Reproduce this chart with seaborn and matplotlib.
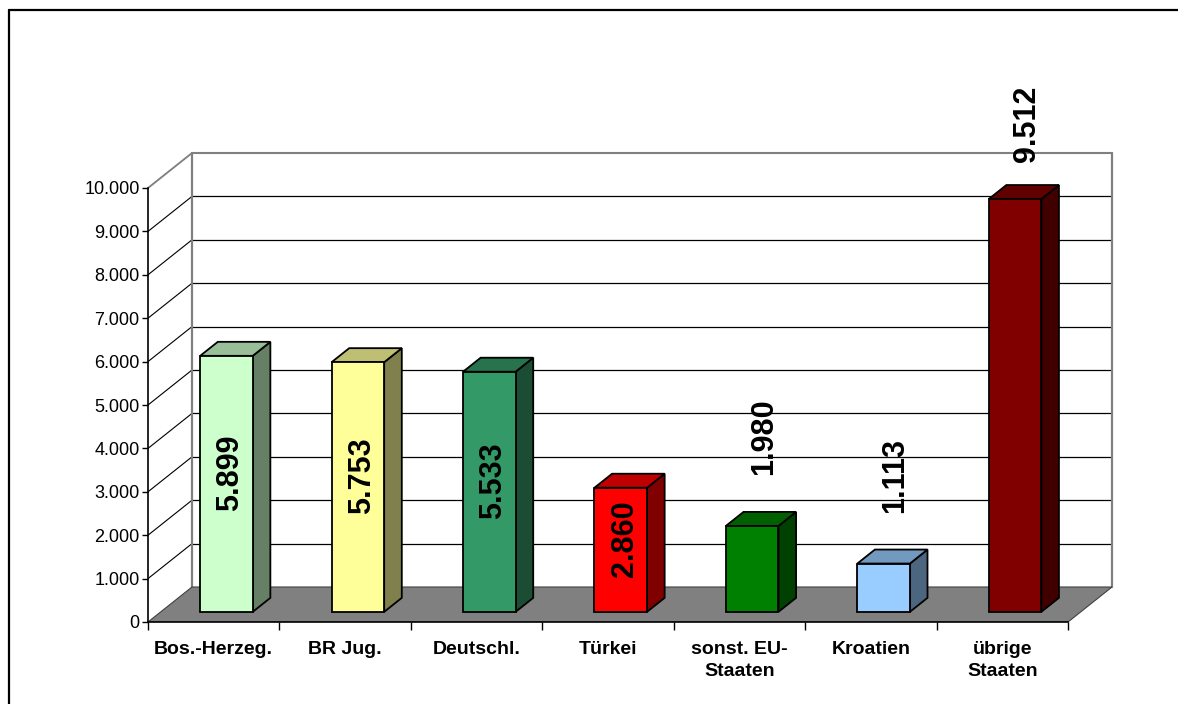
import numpy as np
import pandas as pd
import matplotlib
matplotlib.use("Agg")
import matplotlib.pyplot as plt
import matplotlib.transforms as mtransforms
from matplotlib.patches import Polygon, Rectangle
from matplotlib.lines import Line2D
from matplotlib.ticker import FuncFormatter, FixedLocator
import seaborn as sns

# --- data -------------------------------------------------------------
categories = ["Bos.-Herzeg.", "BR Jug.", "Deutschl.", "Türkei",
              "sonst. EU-\nStaaten", "Kroatien", "übrige\nStaaten"]
values = [5899, 5753, 5533, 2860, 1980, 1113, 9512]
bar_colors = ["#CCFFCC", "#FFFF99", "#339966", "#FF0000",
              "#008000", "#99CCFF", "#800000"]
label_inside = [True, True, True, True, False, False, False]
y_ticks = list(range(0, 10001, 1000))

# --- style ------------------------------------------------------------
sns.set_style("white")
plt.rcParams["font.family"] = ["Liberation Sans", "DejaVu Sans"]
plt.rcParams.update({"text.color": "black", "xtick.color": "black",
                     "ytick.color": "black", "axes.labelcolor": "black"})

W, H, DPI = 1178, 704, 100
fig = plt.figure(figsize=(W / DPI, H / DPI), dpi=DPI)

# axes placement (pixels) so that the chart floor front edge sits at y=622
px_per_cat = (1068 - 148) / 7.0
x_lo, x_hi = -0.5, 7.2
y_lo, y_hi = 0, 11000
px_per_val = 434 / 10000.0
left_px, base_px = 148, 622
ax = fig.add_axes([left_px / W, (H - base_px) / H,
                   (x_hi - x_lo) * px_per_cat / W,
                   (y_hi - y_lo) * px_per_val / H])

# perspective depth of the whole plot box, in data units
DX = 44 / px_per_cat
DY = 35 / px_per_val
# bars sit between depth fractions f0 and f0 + fd
f0, fd = 0.29, 0.40
n = len(categories)
xl, xr = -0.5, n - 0.5

# --- back wall, gridlines and left wall -------------------------------
for v in y_ticks[1:]:
    col = "#808080" if v == y_ticks[-1] else "black"
    lw = 1.5 if v == y_ticks[-1] else 0.9
    ax.add_line(Line2D([xl + DX, xr + DX], [v + DY, v + DY],
                       color=col, lw=lw, zorder=0.5))
    ax.add_line(Line2D([xl, xl + DX], [v, v + DY],
                       color=col, lw=lw * 0.9, zorder=0.5))
for xx in (xl + DX, xr + DX):
    ax.add_line(Line2D([xx, xx], [DY, y_ticks[-1] + DY],
                       color="#808080", lw=1.6, zorder=0.6))

# floor
ax.add_patch(Polygon([(xl, 0), (xr, 0), (xr + DX, DY), (xl + DX, DY)],
                     closed=True, facecolor="#808080",
                     edgecolor="#404040", lw=0.8, zorder=1))

# --- bars -------------------------------------------------------------
df = pd.DataFrame({"Land": categories, "Anzahl": values})
sns.barplot(data=df, x="Land", y="Anzahl", hue="Land",
            palette=bar_colors, saturation=1, legend=False, width=0.4,
            edgecolor="black", linewidth=1.3, ax=ax, zorder=3)

off_x, off_y = f0 * DX, f0 * DY
ddx, ddy = fd * DX, fd * DY
shift = mtransforms.Affine2D().translate(off_x, off_y) + ax.transData


def shade(hexcol, k):
    rgb = np.array(matplotlib.colors.to_rgb(hexcol))
    return tuple(rgb * k)


bars = [p for p in ax.patches if isinstance(p, Rectangle)][:n]
for i, (p, col) in enumerate(zip(bars, bar_colors)):
    p.set_transform(shift)
    p.set_zorder(3)
    x0 = p.get_x() + off_x
    x1 = x0 + p.get_width()
    y0 = p.get_y() + off_y
    y1 = y0 + p.get_height()
    side = Polygon([(x1, y0), (x1 + ddx, y0 + ddy),
                    (x1 + ddx, y1 + ddy), (x1, y1)], closed=True,
                   facecolor=shade(col, 0.5), edgecolor="black",
                   lw=1.3, zorder=2.9)
    top = Polygon([(x0, y1), (x1, y1), (x1 + ddx, y1 + ddy),
                   (x0 + ddx, y1 + ddy)], closed=True,
                  facecolor=shade(col, 0.75), edgecolor="black",
                  lw=1.3, zorder=2.9)
    ax.add_patch(side)
    ax.add_patch(top)

    # value labels
    txt = f"{values[i]:,}".replace(",", ".")
    xc = (x0 + x1) / 2
    if label_inside[i]:
        ax.text(xc + 0.03, y0 + p.get_height() / 2 + 260, txt,
                rotation=90, ha="center", va="center", color="black",
                fontsize=22, fontweight="bold", zorder=5)
    else:
        yb = min(y1 + 1175, 10600)
        ax.text(xc + 0.09, yb, txt, rotation=90, ha="center",
                va="bottom", fontsize=22, fontweight="bold",
                color="black", zorder=5, clip_on=False)

# --- axes -------------------------------------------------------------
ax.set_xlim(x_lo, x_hi)
ax.set_ylim(y_lo, y_hi)
ax.set_xlabel("")
ax.set_ylabel("")
ax.grid(False)
ax.patch.set_alpha(0)

for s in ("top", "right"):
    ax.spines[s].set_visible(False)
ax.spines["left"].set_bounds(0, y_ticks[-1])
ax.spines["bottom"].set_bounds(xl, xr)
for s in ("left", "bottom"):
    ax.spines[s].set_color("black")
    ax.spines[s].set_linewidth(1.2)
    ax.spines[s].set_zorder(2)

ax.yaxis.set_major_locator(FixedLocator(y_ticks))
ax.yaxis.set_major_formatter(
    FuncFormatter(lambda v, _: f"{int(v):,}".replace(",", ".")))
ax.tick_params(axis="y", direction="out", length=4.5, width=1.0,
               color="black", labelcolor="black", pad=1.5,
               labelsize=13, left=True)

ax.set_xticks(range(n))
ax.set_xticklabels(categories, fontsize=14, fontweight="bold",
                   color="black")
for t in ax.get_xticklabels():
    t.set_linespacing(1.35)
ax.xaxis.set_minor_locator(FixedLocator(np.arange(xl, xr + 0.01, 1.0)))
ax.tick_params(axis="x", which="major", length=0, pad=14)
ax.tick_params(axis="x", which="minor", direction="out", length=6,
               width=1.0, color="black", bottom=True)

# outer frame of the chart
fig.add_artist(Line2D([8.5 / W, 8.5 / W], [0, 1 - 10 / H],
                      transform=fig.transFigure, color="black", lw=1.6))
fig.add_artist(Line2D([8.5 / W, 1], [1 - 10 / H, 1 - 10 / H],
                      transform=fig.transFigure, color="black", lw=1.6))

fig.savefig("out.png", dpi=DPI, facecolor="white")
